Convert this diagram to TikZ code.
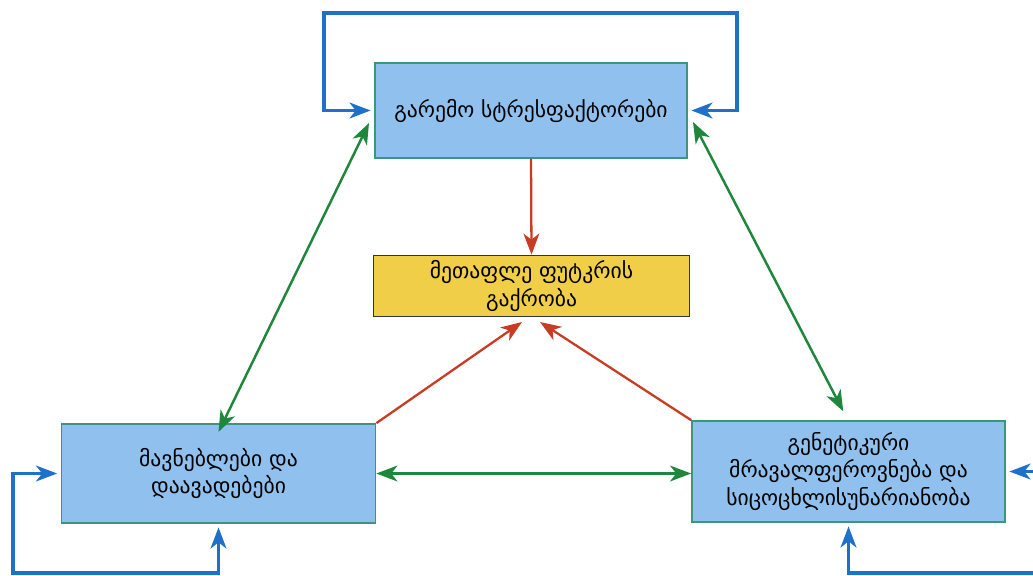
\documentclass[tikz,border=0pt]{standalone}
\usepackage{fontspec}
\setmainfont{DejaVu Sans}
\usepackage{tikz}
\usetikzlibrary{arrows.meta}

\definecolor{boxblue}{RGB}{143,192,238}
\definecolor{boxedge}{RGB}{60,150,125}
\definecolor{boxyellow}{RGB}{241,206,72}
\definecolor{loopblue}{RGB}{30,112,200}
\definecolor{linkgreen}{RGB}{30,135,60}
\definecolor{causered}{RGB}{200,60,35}

\tikzset{
    factor/.style={draw=boxedge, line width=1pt, fill=boxblue, align=center,
        font=\fontsize{12.3}{15.7}\selectfont, inner sep=2pt},
    result/.style={draw=black!80, line width=1pt, fill=boxyellow, align=center,
        font=\fontsize{12.3}{15.7}\selectfont, inner sep=2pt},
    loop/.style={draw=loopblue, line width=1.8pt, {Stealth[length=12pt,width=9pt,inset=3.5pt]}-{Stealth[length=12pt,width=9pt,inset=3.5pt]}, shorten <=2pt, shorten >=2pt},
    link/.style={draw=linkgreen, line width=1.4pt, {Stealth[length=12pt,width=9pt,inset=3.5pt]}-{Stealth[length=12pt,width=9pt,inset=3.5pt]}},
    cause/.style={draw=causered, line width=1.3pt, -{Stealth[length=12pt,width=9pt,inset=3.5pt]}}
}

\begin{document}
\begin{tikzpicture}[x=0.02cm, y=-0.02cm]
        \clip (0, 0) rectangle (1033, 575);
        % boxes
        \node[factor, minimum width=6.24cm, minimum height=1.9cm] (stress) at (531, 110.5) {გარემო სტრესფაქტორები};
        \node[result, minimum width=6.32cm, minimum height=1.22cm] (loss) at (531.5, 286) {მეთაფლე ფუტკრის\\გაქრობა};
        \node[factor, minimum width=6.28cm, minimum height=1.98cm] (pests) at (218.5, 473.5) {მავნებლები და\\დაავადებები};
        \node[factor, minimum width=6.26cm, minimum height=2.02cm] (genes) at (848.5, 471.5) {გენეტიკური\\მრავალფეროვნება და\\სიცოცხლისუნარიანობა};
        % loop corners and free ends
        \coordinate (stressL) at (324, 13);
        \coordinate (stressR) at (737, 13);
        \coordinate (pestsC) at (13, 573);
        \coordinate (genesC) at (1045, 573);
        \coordinate (stressGL) at (369, 123);
        \coordinate (stressGR) at (693, 122);
        \coordinate (lossL) at (522, 322);
        \coordinate (lossR) at (540, 322);
        % feedback loops
        \draw[loop] (stress.west) -| (stressL) -- (stressR) |- (stress.east);
        \draw[loop] (pests.west) -| (pestsC) -| (pests.south);
        \draw[loop] (genes.east) -| (genesC) -| (genes.south);
        % interactions
        \draw[link] (stressGL) -- ([yshift=-5pt]pests.north);
        \draw[link] (stressGR) -- ([xshift=-3pt,yshift=5pt]genes.north);
        \draw[link] (pests.east) -- (pests.east -| genes.west);
        % causes
        \draw[cause] (stress.south) -- (loss.north);
        \draw[cause] (pests.north east) -- (lossL);
        \draw[cause] (genes.north west) -- (lossR);
    \end{tikzpicture}
\end{document}
